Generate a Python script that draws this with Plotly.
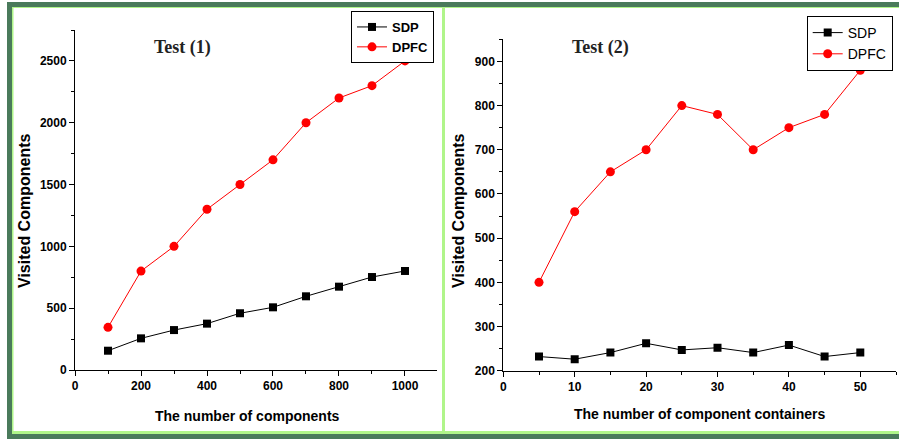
import plotly.graph_objects as go

# ---- data ----
x1 = [100, 200, 300, 400, 500, 600, 700, 800, 900, 1000]
sdp1 = [156, 256, 323, 375, 459, 507, 596, 674, 752, 801]
dpfc1 = [345, 800, 1000, 1300, 1500, 1700, 2000, 2200, 2300, 2500]

x2 = [5, 10, 15, 20, 25, 30, 35, 40, 45, 50]
sdp2 = [232, 226, 241, 262, 247, 252, 241, 258, 232, 241]
dpfc2 = [400, 560, 650, 700, 800, 780, 700, 750, 780, 880]

W, H = 899, 439
DARK = "#4a7a5b"
LIGHT = "#b0f58a"
FONT = "Liberation Sans, Arial, sans-serif"

fig = go.Figure()

def px(xp):
    return xp / W

def py(yp):
    return 1 - yp / H

# series
fig.add_trace(go.Scatter(x=x1, y=sdp1, name="SDP", mode="lines+markers",
                         line=dict(color="black", width=1),
                         marker=dict(symbol="square", size=8, color="black"),
                         xaxis="x", yaxis="y", legend="legend"))
fig.add_trace(go.Scatter(x=x1, y=dpfc1, name="DPFC", mode="lines+markers",
                         line=dict(color="red", width=1),
                         marker=dict(symbol="circle", size=9, color="red"),
                         xaxis="x", yaxis="y", legend="legend"))
fig.add_trace(go.Scatter(x=x2, y=sdp2, name="SDP", mode="lines+markers",
                         line=dict(color="black", width=1),
                         marker=dict(symbol="square", size=8, color="black"),
                         xaxis="x2", yaxis="y2", legend="legend2"))
fig.add_trace(go.Scatter(x=x2, y=dpfc2, name="DPFC", mode="lines+markers",
                         line=dict(color="red", width=1),
                         marker=dict(symbol="circle", size=9, color="red"),
                         xaxis="x2", yaxis="y2", legend="legend2"))

tickfont = dict(family=FONT, size=12, color="black", weight="bold")
axis_common = dict(showline=True, linecolor="black", linewidth=1, mirror=False,
                   showgrid=False, zeroline=False, ticks="outside", ticklen=5,
                   tickcolor="black", tickwidth=1, tickfont=tickfont, fixedrange=True)

fig.update_layout(
    width=W, height=H, margin=dict(l=0, r=0, t=0, b=0, autoexpand=False),
    paper_bgcolor="white", plot_bgcolor="white",
    showlegend=True,
    xaxis=dict(domain=[px(75), px(437)], range=[0, 1097], tickvals=[0, 200, 400, 600, 800, 1000],
               anchor="y", minor=dict(ticks="outside", ticklen=3, dtick=100, tick0=0, tickcolor="black"),
               **axis_common),
    yaxis=dict(domain=[py(370), py(30)], range=[0, 2750], tickvals=[0, 500, 1000, 1500, 2000, 2500],
               anchor="x", minor=dict(ticks="outside", ticklen=3, dtick=250, tick0=0, tickcolor="black"),
               **axis_common),
    xaxis2=dict(domain=[px(503.3), px(896)], range=[0, 55], tickvals=[0, 10, 20, 30, 40, 50],
                anchor="y2", minor=dict(ticks="outside", ticklen=3, dtick=5, tick0=0, tickcolor="black"),
                **axis_common),
    yaxis2=dict(domain=[py(370.7), py(39.3)], range=[200, 950], tickvals=[200, 300, 400, 500, 600, 700, 800, 900],
                anchor="x2", minor=dict(ticks="outside", ticklen=3, dtick=50, tick0=200, tickcolor="black"),
                **axis_common),
    legend=dict(x=px(351), y=py(11), xanchor="left", yanchor="top",
                bgcolor="white", bordercolor="black", borderwidth=1,
                font=dict(family=FONT, size=13, color="black", weight="bold"),
                itemwidth=30, tracegroupgap=0),
    legend2=dict(x=px(806.7), y=py(16), xanchor="left", yanchor="top",
                 bgcolor="white", bordercolor="black", borderwidth=1,
                 font=dict(family=FONT, size=14, color="black"),
                 itemwidth=30, tracegroupgap=0),
)

def ann(text, x, y, size, family=FONT, angle=0, color="black"):
    return dict(text=text, x=px(x), y=py(y), xref="paper", yref="paper",
                xanchor="center", yanchor="middle", showarrow=False, textangle=angle,
                font=dict(family=family, size=size, color=color, weight="bold"))

SERIF = "Liberation Serif, Times New Roman, serif"
annotations = [
    ann("Test (1)", 182, 47, 18, SERIF, color="#222"),
    ann("Test (2)", 600, 47, 18, SERIF, color="#222"),
    ann("Visited Components", 24, 211, 16, angle=-90),
    ann("Visited Components", 458, 211, 16, angle=-90),
    ann("The number of components", 247, 416, 14),
    ann("The number of component containers", 699, 414, 14),
]
fig.update_layout(annotations=annotations)

# frame decorations
def band(x0, x1, y0, y1, color):
    return dict(type="rect", xref="paper", yref="paper", x0=px(x0), x1=px(x1),
                y0=py(y1), y1=py(y0), fillcolor=color, line=dict(width=0), layer="below")

shapes = [
    band(7, W, 2, 7, DARK),
    band(7, 12, 2, 439, DARK),
    band(7, W, 434, 439, DARK),
    band(12, 13.5, 7, 434, LIGHT),
    band(12, W, 431, 434, LIGHT),
    band(12, W, 7, 8, LIGHT),
    band(442, 445, 7, 431, LIGHT),
]
fig.update_layout(shapes=shapes)

fig.write_html("out.html", config={"displayModeBar": False},
               post_script="document.body.style.margin='0px';")
